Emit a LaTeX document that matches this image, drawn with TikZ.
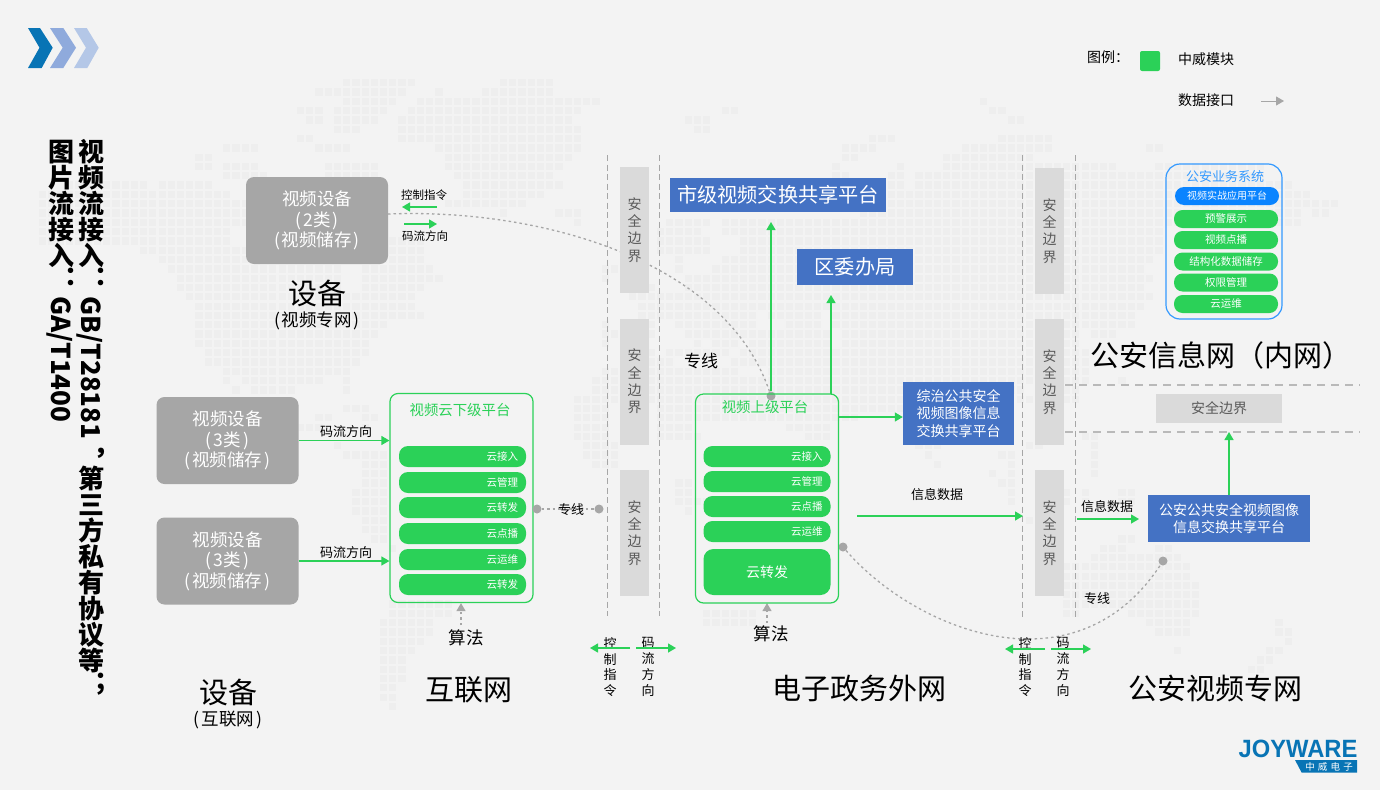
\documentclass[tikz,border=0pt]{standalone}
\usepackage{fontspec}
\setmainfont{Noto Sans CJK SC}
\newfontfamily\logofont{Liberation Sans}
\usetikzlibrary{arrows.meta}

\definecolor{pagebg}{HTML}{F3F3F3}
\definecolor{mapgray}{HTML}{EEEEEE}
\definecolor{devgray}{HTML}{A6A6A6}
\definecolor{secgray}{HTML}{DADADA}
\definecolor{sectext}{HTML}{595959}
\definecolor{zwgreen}{HTML}{2BD158}
\definecolor{platblue}{HTML}{4472C4}
\definecolor{policeblue}{HTML}{3399FF}
\definecolor{pillblue}{HTML}{0A84FF}
\definecolor{logoblue}{HTML}{0874B5}

\newcommand{\fsz}[2]{\fontsize{#1}{#2}\selectfont}
\newcommand{\upch}[1]{\rotatebox[origin=c]{90}{\makebox[1em]{\rule[-.12em]{0pt}{1em}#1}}}
\newcommand{\uppn}[1]{\rotatebox[origin=c]{90}{\makebox[1em][l]{\rule[-.12em]{0pt}{1em}\hspace*{.58em}\raisebox{.3em}{#1}}}}
\newcommand{\inpar}[1]{(\kern2pt#1\kern2pt)}

\tikzset{
  devbox/.style={fill=devgray,text=white,rounded corners=8pt,minimum width=142pt,minimum height=87pt,
    inner sep=0pt,align=center,font=\fsz{17.5}{20.5}},
  secbox/.style={fill=secgray,text=sectext,minimum width=29pt,minimum height=126pt,inner sep=0pt,
    align=center,font=\fsz{14}{17.2}},
  bluebox/.style={fill=platblue,text=white,inner sep=0pt,align=center},
  platbox/.style={draw=zwgreen,line width=1.2pt,rounded corners=8pt,minimum width=143pt,minimum height=209pt},
  pill/.style={fill=zwgreen,text=white,rounded corners=9pt,minimum height=21pt,inner xsep=8pt,inner ysep=0pt,
    text width=111pt,align=right,font=\fsz{10.5}{12}},
  spill/.style={fill=zwgreen,text=white,rounded corners=8.5pt,minimum width=104pt,minimum height=18pt,
    inner sep=0pt,font=\fsz{10.5}{12}},
  greenarrow/.style={draw=zwgreen,line width=1.3pt,-{Triangle[length=8pt,width=9pt]}},
  grayarrow/.style={draw=devgray,line width=1pt,-{Triangle[length=8pt,width=9pt]}},
  dotarrow/.style={draw=devgray,line width=1.3pt,dash pattern=on 2.5pt off 3pt,-{Triangle[length=8pt,width=9pt]}},
  dotline/.style={draw=devgray,line width=1.3pt,dash pattern=on 2.5pt off 3pt},
  vline/.style={draw=devgray,line width=.8pt,dash pattern=on 6pt off 3.5pt},
  hline/.style={draw=secgray!85!black,line width=1.4pt,dash pattern=on 8pt off 6pt},
  dot/.style={circle,fill=devgray,minimum size=9pt,inner sep=0pt},
  mapcell/.style={fill=mapgray},
  lbl/.style={inner sep=0pt,align=center,font=\fsz{13}{15}},
  tinylbl/.style={inner sep=0pt,align=center,font=\fsz{11.5}{14}},
  biglbl/.style={inner sep=0pt,font=\fsz{29}{32}},
  midlbl/.style={inner sep=0pt,font=\fsz{17.5}{20}},
  vlbl/.style={inner sep=0pt,align=center,font=\fsz{13}{15.8}},
  plattitle/.style={inner sep=0pt,text=zwgreen,font=\fsz{14.4}{16}}
}

\begin{document}
\begin{tikzpicture}[x=1pt,y=-1pt]
  \useasboundingbox (0,0) rectangle (1380,790);
  \fill[pagebg] (0,0) rectangle (1380,790);

  \begin{scope}[shift={(5.2,82.7)},x=9.23pt,y=-9.31pt]
    \foreach \r/\a/\b in {0/37/44,0/54/59,1/34/43,1/47/47,1/52/59,2/37/42,2/45/64,2/106/106,3/32/34,3/36/41,3/44/62,3/78/79,3/107/108,
      4/33/34,4/36/40,4/43/61,4/74/76,4/109/110,5/36/38,5/43/62,5/75/76,6/32/33,6/43/62,6/94/96,6/108/113,
      7/24/27,7/34/37,7/47/62,7/91/94,7/104/113,7/124/125,8/21/22,8/48/61,8/91/92,8/102/111,
      9/21/22,9/24/27,9/35/40,9/48/60,9/90/90,9/97/97,9/102/120,9/125/136,
      10/24/28,10/35/40,10/49/59,10/90/91,10/96/97,10/99/136,11/7/15,11/17/22,11/50/60,11/96/97,11/99/139,
      12/4/24,12/50/58,12/96/141,13/4/26,13/48/56,13/96/144,14/4/26,14/54/54,14/60/62,14/93/140,14/142/143,
      15/4/26,15/62/62,15/72/76,15/78/140,16/4/24,16/71/75,16/78/125,17/4/24,17/42/45,17/71/76,17/80/125,
      18/15/26,18/41/45,18/71/76,18/80/125,19/17/26,19/41/45,19/73/73,19/78/124,
      20/18/36,20/39/46,20/65/66,20/73/73,20/77/123,21/19/36,21/39/47,21/65/65,21/74/124,
      22/19/36,22/39/45,22/70/70,22/74/123,23/20/44,23/68/124,24/21/44,24/69/123,
      25/21/45,25/69/81,25/83/88,25/90/122,26/21/41,26/65/65,26/69/70,26/73/81,26/85/88,26/90/122,
      27/21/40,27/65/70,27/74/80,27/81/89,27/91/116,27/118/120,28/21/39,28/65/65,28/75/75,28/77/79,28/81/89,28/91/116,
      29/22/39,29/70/70,29/72/78,29/80/117,30/22/38,30/70/72,30/79/117,31/24/37,31/65/79,31/83/117,
      32/24/24,32/26/34,32/37/37,32/64/117,32/121/121,33/25/25,33/27/31,33/37/37,33/64/110,33/115/116,
      34/62/100,34/110/111,34/115/116,35/37/39,35/62/65,35/71/100,36/34/35,36/39/40,36/62/65,36/71/92,
      37/32/34,37/39/39,37/62/65,37/71/74,37/85/89,38/62/65,38/71/75,38/87/89,38/117/118,
      39/36/36,39/63/66,39/99/101,39/111/112,39/118/118,40/37/41,40/63/66,40/100/100,40/108/109,40/118/118,
      41/39/41,41/64/66,41/101/101,41/109/109,41/118/118,42/39/41,42/107/107,42/109/109,42/118/118,
      43/39/41,43/73/74,43/108/109,44/38/41,44/73/74,44/109/109,44/115/115,44/117/117,44/121/122,
      45/38/41,45/73/76,45/109/109,45/115/115,45/117/117,45/121/122,46/38/41,46/74/74,47/39/41,47/111/111,48/39/41,
      49/40/41,49/121/122,50/42/42,50/119/121,50/125/126,51/118/127,52/115/128,53/115/128,54/115/129,55/115/129,
      56/42/48,56/115/129,57/42/48,57/76/81,57/115/116,57/122/129,58/41/46,58/76/81,58/124/128,58/138/138,
      59/41/46,59/125/128,59/138/139,60/41/45,60/139/139,61/41/44,61/127/127,61/137/138,62/41/43,62/136/137,
      63/41/43,63/135/136,64/41/43,65/41/42,66/41/42,67/42/42}
      \foreach \c in {\a,...,\b}
        \fill[mapcell] (\c-.39,\r-.39) rectangle +(.78,.78);
  \end{scope}

  \fill[fill=logoblue] (28,28) -- (40,28) -- (52.7,47.7) -- (41.7,68) -- (28,68) -- (39.5,47.7) -- cycle;
  \fill[fill=platblue!60] (50,28) -- (63.3,28) -- (76,47.7) -- (63.3,68) -- (50,68) -- (62.7,47.7) -- cycle;
  \fill[fill=platblue!40] (74,28) -- (86.7,28) -- (98.7,47.7) -- (87.3,68) -- (74,68) -- (86,47.7) -- cycle;

  \node[rotate=-90,anchor=north west,inner sep=0pt,align=left,font=\fsz{26}{30}\bfseries] (accessnote) at (106,138)
    {\upch{视}\upch{频}\upch{流}\upch{接}\upch{入}\uppn{：}GB/T28181\uppn{，}\upch{第}\upch{三}\upch{方}\upch{私}\upch{有}\upch{协}\upch{议}\upch{等}\uppn{；}\\
     \upch{图}\upch{片}\upch{流}\upch{接}\upch{入}\uppn{：}GA/T1400};

  \node[inner sep=0pt,font=\fsz{14}{15}] (legendhead) at (1108,57) {图例：};
  \node[fill=zwgreen,rounded corners=2pt,minimum size=20pt,inner sep=0pt] (legendswatch) at (1150,61) {};
  \node[lbl,font=\fsz{14}{15}] (legendzw) at (1206,59) {中威模块};
  \node[lbl,font=\fsz{14}{15}] (legendport) at (1206,100) {数据接口};
  \coordinate (legendarrow) at (1284,101);
  \coordinate (legendstart) at (1261,101);
  \draw[grayarrow] (legendstart) -- (legendarrow);

  \draw[vline] (607,155) -- (607,616);
  \draw[vline] (659,155) -- (659,616);
  \draw[vline] (1022,155) -- (1022,617);
  \draw[vline] (1075,155) -- (1075,617);
  \draw[hline] (1065,385) -- (1360,385);
  \draw[hline] (1065,432) -- (1360,432);

  \coordinate (devtap) at (388,214);
  \node[dot] (uptap) at (771,396) {};
  \node[dot] (downtap) at (843,547) {};
  \node[dot] (videotap) at (1163,561) {};
  \draw[dotline] (devtap) .. controls (540,208) and (725,260) .. (uptap);
  \draw[dotline] (downtap) .. controls (915,630) and (1075,695) .. (videotap);

  \node[secbox] (secaa) at (634.5,230) {安\\全\\边\\界};
  \node[secbox] (secab) at (634.5,381.5) {安\\全\\边\\界};
  \node[secbox] (secac) at (634.5,533) {安\\全\\边\\界};
  \node[secbox] (secba) at (1049.5,231) {安\\全\\边\\界};
  \node[secbox] (secbb) at (1049.5,382) {安\\全\\边\\界};
  \node[secbox] (secbc) at (1049.5,533) {安\\全\\边\\界};
  \node[fill=secgray,text=sectext,minimum width=126pt,minimum height=29pt,inner sep=0pt,font=\fsz{14}{17}] (sech) at (1219,408.5) {安全边界};

  \node[devbox] (devtwo) at (317,220.5) {视频设备\\\inpar{2类}\\\inpar{视频储存}};
  \node[devbox] (devthreea) at (227.5,440.5) {视频设备\\\inpar{3类}\\\inpar{视频储存}};
  \node[devbox] (devthreeb) at (227.5,561) {视频设备\\\inpar{3类}\\\inpar{视频储存}};

  \node[biglbl] (devvideo) at (317,293) {设备};
  \node[midlbl] (devvideosub) at (317,321) {\inpar{视频专网}};
  \node[biglbl] (devnet) at (228,692) {设备};
  \node[midlbl] (devnetsub) at (228,720) {\inpar{互联网}};
  \node[biglbl] (netinternet) at (469,690) {互联网};
  \node[biglbl] (netgov) at (859,688) {电子政务外网};
  \node[biglbl] (netvideo) at (1215,688) {公安视频专网};
  \node[biglbl] (netpolice) at (1221,355) {公安信息网（内网）};

  \node[tinylbl] (ctrltext) at (424,195) {控制指令};
  \node[tinylbl] (flowtext) at (425,236) {码流方向};
  \coordinate (ctrlfrom) at (437,207);
  \coordinate (ctrlto) at (402,207);
  \coordinate (flowfrom) at (404,224);
  \coordinate (flowto) at (437,224);
  \draw[greenarrow] (ctrlfrom) -- (ctrlto);
  \draw[greenarrow] (flowfrom) -- (flowto);

  \node[platbox] (lowplat) at (461.5,498) {};
  \node[plattitle] (lowtitle) at (460,410) {视频云下级平台};
  \node[pill] (lowa) at (462.5,456.5) {云接入};
  \node[pill] (lowb) at (462.5,482.5) {云管理};
  \node[pill] (lowc) at (462.5,507.5) {云转发};
  \node[pill] (lowd) at (462.5,533.5) {云点播};
  \node[pill] (lowe) at (462.5,559.5) {云运维};
  \node[pill] (lowf) at (462.5,584.5) {云转发};

  \draw[greenarrow] (devthreea.east) -- (devthreea.east -| lowplat.west);
  \draw[greenarrow] (devthreeb.east) -- (devthreeb.east -| lowplat.west);
  \node[lbl] (flowa) at (346,432) {码流方向};
  \node[lbl] (flowb) at (346,553) {码流方向};

  \node[dot] (lineleft) at (537,509) {};
  \node[dot] (lineright) at (599,509) {};
  \draw[dotline] (lineleft) -- (lineright);
  \node[lbl] (linetext) at (571,510) {专线};
  \node[lbl,font=\fsz{17}{19}] (linetop) at (701,361) {专线};
  \node[lbl] (linedown) at (1097,599) {专线};

  \node[midlbl] (algolow) at (466,638) {算法};
  \node[midlbl] (algoup) at (771,634) {算法};
  \coordinate (algolowfrom) at (461,625);
  \coordinate (algoupfrom) at (767,623);
  \draw[dotarrow] (algolowfrom) -- (algolowfrom |- lowplat.south);
  \draw[dotarrow] (algoupfrom) -- (algoupfrom |- lowplat.south);

  \node[platbox] (upplat) at (767,498.5) {};
  \node[plattitle] (uptitle) at (765,407) {视频上级平台};
  \node[pill] (upa) at (767,456.5) {云接入};
  \node[pill] (upb) at (767,481.5) {云管理};
  \node[pill] (upc) at (767,506.5) {云点播};
  \node[pill] (upd) at (767,531.5) {云运维};
  \node[fill=zwgreen,text=white,rounded corners=10pt,minimum width=127pt,minimum height=46pt,inner sep=0pt,font=\fsz{14}{16}] (upe) at (767,572) {云转发};

  \node[bluebox,minimum width=216pt,minimum height=34pt,font=\fsz{20.2}{24}] (cityplat) at (778,195) {市级视频交换共享平台};
  \node[bluebox,minimum width=116pt,minimum height=36pt,font=\fsz{20.2}{24}] (district) at (855,267) {区委办局};
  \node[bluebox,minimum width=111pt,minimum height=63pt,font=\fsz{14}{17.5}] (zongzhi) at (958.5,413.5) {综治公共安全\\视频图像信息\\交换共享平台};
  \node[bluebox,minimum width=162pt,minimum height=47pt,font=\fsz{14}{17}] (policeplat) at (1229,518.5) {公安公共安全视频图像\\信息交换共享平台};

  \coordinate (cityin) at (771,222);
  \coordinate (districtfrom) at (831,394);
  \coordinate (districtin) at (831,295);
  \coordinate (zongzhifrom) at (838,417);
  \coordinate (infofrom) at (857,516);
  \coordinate (infoto) at (1023,516);
  \coordinate (infobfrom) at (1077,519);
  \coordinate (infobto) at (1139,519);
  \coordinate (secin) at (1229,432);
  \draw[greenarrow] (uptap) -- (cityin);
  \draw[greenarrow] (districtfrom) -- (districtin);
  \draw[greenarrow] (zongzhifrom) -- (zongzhi.west |- zongzhifrom);
  \draw[greenarrow] (infofrom) -- (infoto);
  \draw[greenarrow] (infobfrom) -- (infobto);
  \draw[greenarrow] (policeplat.north) -- (secin);
  \node[lbl] (infoa) at (937,495) {信息数据};
  \node[lbl] (infob) at (1107,507) {信息数据};

  \node[vlbl] (ctrla) at (610,667) {控\\制\\指\\令};
  \node[vlbl] (flowva) at (648,667) {码\\流\\方\\向};
  \node[vlbl] (ctrlb) at (1025,667) {控\\制\\指\\令};
  \node[vlbl] (flowvb) at (1063,667) {码\\流\\方\\向};
  \coordinate (bra) at (630,648);
  \coordinate (brb) at (590,648);
  \coordinate (brc) at (636,648);
  \coordinate (brd) at (676,648);
  \coordinate (bre) at (1045,649);
  \coordinate (brf) at (1005,649);
  \coordinate (brg) at (1051,649);
  \coordinate (brh) at (1091,649);
  \draw[greenarrow] (bra) -- (brb);
  \draw[greenarrow] (brc) -- (brd);
  \draw[greenarrow] (bre) -- (brf);
  \draw[greenarrow] (brg) -- (brh);

  \node[draw=policeblue,line width=1.2pt,rounded corners=14pt,minimum width=116pt,minimum height=155pt] (policesys) at (1224,241.5) {};
  \node[inner sep=0pt,text=policeblue,font=\fsz{13}{15}] (policetitle) at (1225,177) {公安业务系统};
  \node[fill=pillblue,text=white,rounded corners=9pt,minimum width=104pt,minimum height=18pt,inner sep=0pt,font=\fsz{10}{12}] (policea) at (1227,196) {视频实战应用平台};
  \node[spill] (policeb) at (1226,219) {预警展示};
  \node[spill] (policec) at (1226,240) {视频点播};
  \node[spill] (policed) at (1226,261.5) {结构化数据储存};
  \node[spill] (policee) at (1226,282.5) {权限管理};
  \node[spill] (policef) at (1226,304) {云运维};

  \node[inner sep=0pt,text=logoblue,xscale=.95,font=\logofont\fsz{25}{28}\bfseries] (logotext) at (1298,748.5) {JOYWARE};
  \fill[fill=logoblue] (1295,760) -- (1357,760) -- (1357,772.7) -- (1301.7,772.7) -- cycle;
  \node[inner sep=0pt,text=white,font=\fsz{9.5}{10}] (logosub) at (1329,766.5) {中\,\,威\,\,电\,\,子};
\end{tikzpicture}
\end{document}
